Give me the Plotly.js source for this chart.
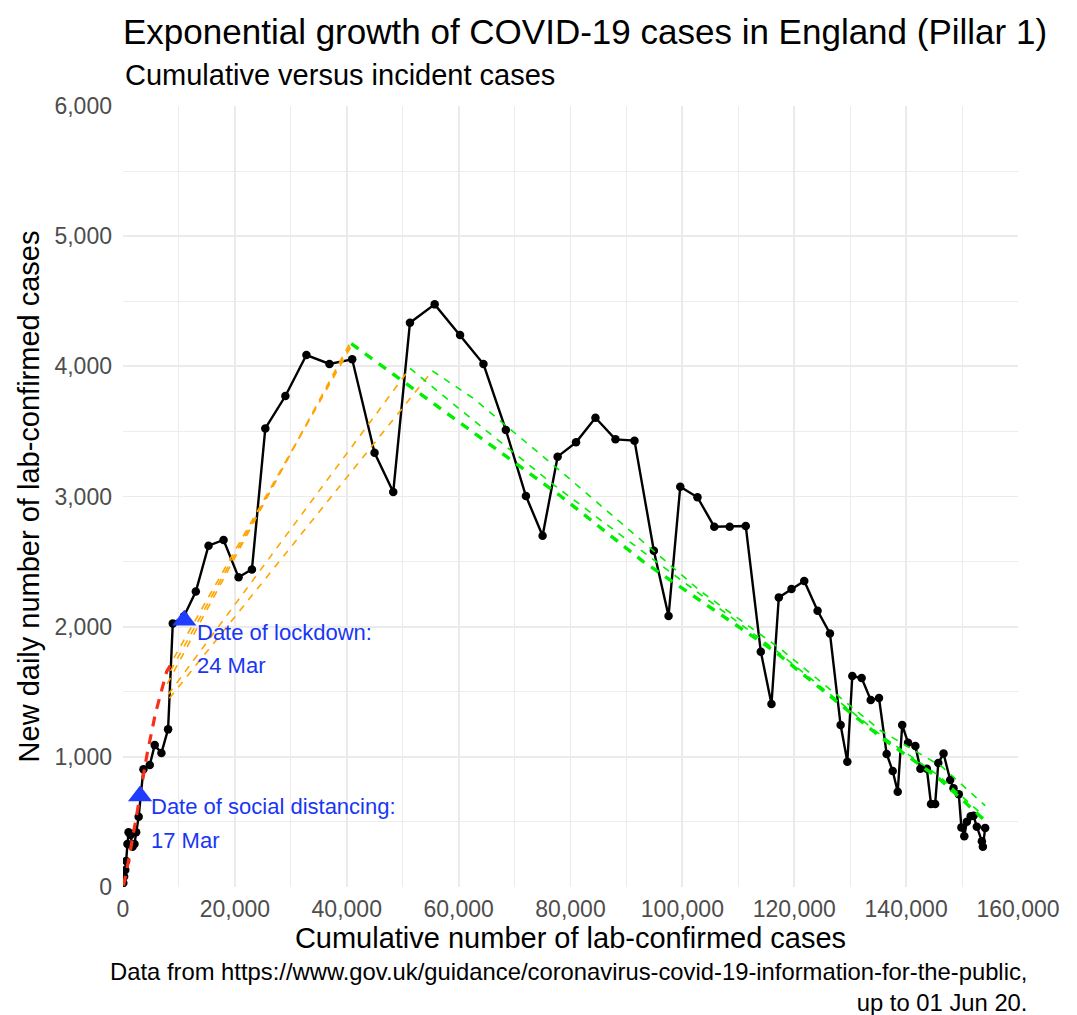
<!DOCTYPE html>
<html><head><meta charset="utf-8">
<script src="https://cdn.plot.ly/plotly-3.0.1.min.js"></script>
<style>html,body{margin:0;padding:0;background:#fff}#chart{width:1077px;height:1015px}</style>
</head><body><div id="chart"></div>
<script>
// Observed data: cumulative cases (x) vs new daily cases (y)
const cumulative = [60, 200, 400, 560, 800, 1000, 1350, 1700, 2050, 2350, 2800, 3650, 4780, 5670, 6870, 8060, 8900, 10900,
  13020, 15290, 17980, 20660, 23050, 25440, 29030, 32790, 36910, 40970, 44970, 48310, 51300, 55720, 60260,
  64440, 68440, 72030, 75010, 77700, 80990, 84460, 88040, 91440, 94900, 97530, 99620, 102700, 105700,
  108460, 111330, 114020, 115930, 117240, 119510, 121790, 124170, 126380, 128290, 129490, 130380, 132050,
  133670, 135150, 136520, 137600, 138500, 139300, 140350, 141650, 142550, 143700, 144450, 145190, 145750,
  146690, 147880, 148470, 149420, 149880, 150400, 150860, 151550, 152050, 152640, 153540, 153720, 154130];
const daily = [30, 80, 130, 200, 330, 420, 400, 310, 330, 420, 540, 905, 937, 1090, 1030, 1211, 2025, 2080,
  2270, 2622, 2666, 2379, 2440, 3523, 3772, 4087, 4018, 4054, 3336, 3034, 4335, 4476, 4240,
  4018, 3511, 3004, 2699, 3306, 3416, 3605, 3439, 3429, 2584, 2082, 3075, 2994, 2768,
  2768, 2773, 1808, 1406, 2225, 2289, 2351, 2122, 1948, 1244, 963, 1621, 1605,
  1437, 1452, 1022, 891, 732, 1244, 1109, 1083, 908, 908, 638, 638, 952,
  1025, 822, 758, 712, 458, 390, 502, 543, 547, 463, 352, 310, 453];

// Fitted trajectories
const redX = [100, 1000, 2500, 4300, 5800, 7800, 8400];
const redY = [10, 205, 566, 1020, 1334, 1654, 1700];
const orangeA1X = [7900, 40700], orangeA1Y = [1560, 4190];
const orangeA2X = [8500, 40800], orangeA2Y = [1660, 4175];
const orangeA3X = [9100, 40950], orangeA3Y = [1760, 4165];
const orangeBX = [8100, 51300], orangeBY = [1480, 3985];
const orangeCX = [8300, 55300], orangeCY = [1450, 3965];
const greenAX = [40800, 60470, 78340, 93000, 116500, 135500, 145700, 153850];
const greenAY = [4175, 3560, 3000, 2500, 1810, 1150, 840, 520];
const greenBX = [51300, 60380, 77000, 94430, 116500, 135500, 145700, 153900];
const greenBY = [3985, 3664, 3090, 2528, 1825, 1165, 860, 545];
const greenCX = [55300, 62650, 80000, 103380, 117500, 135500, 146400, 154130];
const greenCY = [3965, 3754, 3130, 2268, 1830, 1200, 924, 625];

// Events
const eventX = [3050, 10950];
const eventY = [700, 2050];
const eventLabel1 = ["Date of social distancing:", "Date of lockdown:"];
const eventLabel2 = ["17 Mar", "24 Mar"];
const labelX = [4720, 12900];
const labelY1 = [617, 1959];
const labelY2 = [361, 1698];

const xTicks = [0, 20000, 40000, 60000, 80000, 100000, 120000, 140000, 160000];
const yTicks = [0, 1000, 2000, 3000, 4000, 5000, 6000];

const FONT = "Liberation Sans, Arial, Helvetica, sans-serif";
const BLUE = "#1a36f5";

function dashed(x, y, color, width, dash) {
  return {x: x, y: y, type: "scatter", mode: "lines", hoverinfo: "skip",
    line: {color: color, width: width, dash: dash}, showlegend: false};
}

const traces = [
  {x: cumulative, y: daily, type: "scatter", mode: "lines+markers", showlegend: false,
   line: {color: "#000", width: 2.4}, marker: {color: "#000", size: 8.5}},
  dashed(redX, redY, "#f8301a", 3.2, "10px,8px"),
  dashed(orangeA1X, orangeA1Y, "#ffa500", 1.6, "7px,7px"),
  dashed(orangeA2X, orangeA2Y, "#ffa500", 1.6, "7px,7px"),
  dashed(orangeA3X, orangeA3Y, "#ffa500", 1.6, "7px,7px"),
  dashed(orangeBX, orangeBY, "#ffa500", 1.6, "7px,7px"),
  dashed(orangeCX, orangeCY, "#ffa500", 1.6, "7px,7px"),
  dashed(greenAX, greenAY, "#00ee00", 3.4, "9px,8px"),
  dashed(greenBX, greenBY, "#00ee00", 1.6, "7px,7px"),
  dashed(greenCX, greenCY, "#00ee00", 1.6, "7px,7px"),
  {x: eventX, y: eventY, type: "scatter", mode: "markers", showlegend: false,
   marker: {symbol: "triangle-up", size: 21, color: "#1f3cff"}}
];

const annotations = [];
for (let i = 0; i < eventX.length; i++) {
  annotations.push({x: labelX[i], y: labelY1[i], xref: "x", yref: "y", text: eventLabel1[i],
    showarrow: false, xanchor: "left", yanchor: "middle", font: {family: FONT, size: 22, color: BLUE}});
  annotations.push({x: labelX[i], y: labelY2[i], xref: "x", yref: "y", text: eventLabel2[i],
    showarrow: false, xanchor: "left", yanchor: "middle", font: {family: FONT, size: 22, color: BLUE}});
}
annotations.push({xref: "paper", yref: "paper", x: 0, y: (887 - 75) / 781, xanchor: "left", yanchor: "middle",
  text: "Cumulative versus incident cases", showarrow: false, font: {family: FONT, size: 29, color: "#000"}});
annotations.push({xref: "paper", yref: "paper", x: (1029 - 123) / 895, y: (887 - 987) / 781, xanchor: "right", yanchor: "middle",
  align: "right", showarrow: false, font: {family: FONT, size: 23.8, color: "#000"},
  text: "Data from https://www.gov.uk/guidance/coronavirus-covid-19-information-for-the-public,<br>up to 01 Jun 20."});

const gridCol = "#ebebeb";
const layout = {
  width: 1077, height: 1015,
  margin: {l: 123, r: 59, t: 106, b: 128, pad: 0},
  paper_bgcolor: "#fff", plot_bgcolor: "#fff",
  font: {family: FONT, color: "#000"},
  title: {text: "Exponential growth of COVID-19 cases in England (Pillar 1)", xref: "container", yref: "container",
    x: 123 / 1077, xanchor: "left", y: 1 - 32 / 1015, yanchor: "middle", font: {family: FONT, size: 35, color: "#000"}},
  xaxis: {range: [0, 160000], tickvals: xTicks, ticktext: xTicks.map(v => v.toLocaleString("en-US")),
    showgrid: true, gridcolor: gridCol, gridwidth: 1.8, zeroline: false, showline: false, ticks: "",
    ticklabelstandoff: 6, tickfont: {family: FONT, size: 23, color: "#4d4d4d"},
    minor: {dtick: 10000, tick0: 0, showgrid: true, gridcolor: gridCol, gridwidth: 0.9},
    title: {text: "Cumulative number of lab-confirmed cases", standoff: 5, font: {family: FONT, size: 29, color: "#000"}}},
  yaxis: {range: [0, 6000], tickvals: yTicks, ticktext: yTicks.map(v => v.toLocaleString("en-US")),
    showgrid: true, gridcolor: gridCol, gridwidth: 1.8, zeroline: false, showline: false, ticks: "",
    ticklabelstandoff: 10, tickfont: {family: FONT, size: 23, color: "#4d4d4d"},
    minor: {dtick: 500, tick0: 0, showgrid: true, gridcolor: gridCol, gridwidth: 0.9},
    title: {text: "New daily number of lab-confirmed cases", standoff: 6, font: {family: FONT, size: 29, color: "#000"}}},
  annotations: annotations,
  showlegend: false
};

Plotly.newPlot("chart", traces, layout, {displayModeBar: false, staticPlot: true});
</script>
</body></html>
